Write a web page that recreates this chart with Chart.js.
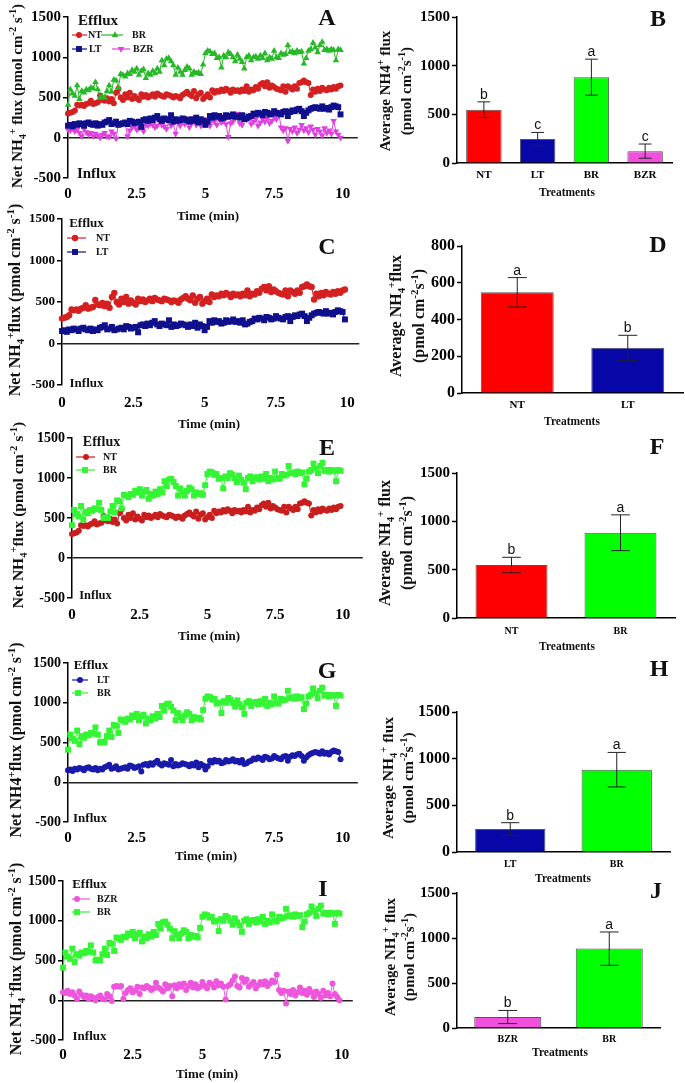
<!DOCTYPE html>
<html><head><meta charset="utf-8">
<script src="https://cdn.jsdelivr.net/npm/chart.js@4.4.1/dist/chart.umd.min.js"></script>
<style>
html,body{margin:0;padding:0;background:#fff;}
body{width:685px;height:1083px;position:relative;overflow:hidden;font-family:"Liberation Serif","Times New Roman",serif;}
canvas{position:absolute;}
.t{position:absolute;white-space:nowrap;font-weight:bold;color:#111;line-height:1;transform:translate(-50%,-50%);}
.r{transform:translate(-50%,-50%) rotate(-90deg);text-align:center;}
sub,sup{font-size:68%;line-height:0;}
</style></head><body>
<script>
// ---------- DATA ----------
const SAMPLE_INTERVAL_MIN = 5 / 60;           // one reading every 5 s
const timeTicks = [0, 2.5, 5, 7.5, 10];
const fluxNT = [300,310,320,340,410,400,410,395,420,430,460,420,
  430,440,525,470,460,490,450,480,430,560,610,500,
  470,540,500,560,480,520,490,470,540,510,530,500,
  520,540,510,550,530,520,510,540,530,520,500,520,
  510,490,530,550,570,540,520,580,490,540,560,480,
  510,540,500,590,560,580,570,600,580,610,590,560,
  600,580,590,570,600,580,640,570,600,590,630,610,
  660,680,640,690,620,650,630,610,600,590,640,570,
  640,620,600,640,610,680,690,710,690,680,530,600,
  570,610,580,620,600,590,620,600,630,610,640,650];
const fluxLT = [150,160,140,170,160,180,170,150,180,190,170,160,
  180,150,170,160,190,200,220,170,180,200,160,170,
  180,190,170,210,200,180,190,200,135,220,230,210,
  240,220,250,270,230,210,240,230,220,280,200,230,
  210,220,240,230,220,200,230,210,250,190,230,210,
  160,200,270,250,280,260,270,240,250,280,260,270,
  290,260,270,250,280,230,240,260,270,300,290,310,
  300,280,320,310,290,300,330,310,300,290,320,330,
  270,320,340,330,350,360,330,270,310,340,360,370,
  380,370,360,390,360,370,350,380,400,390,380,290];
const fluxBR = [410,600,550,520,650,480,580,560,600,590,620,610,
  690,600,500,510,500,580,650,570,720,710,620,790,
  780,760,800,790,840,820,860,780,830,850,740,800,
  780,830,800,860,820,960,900,980,990,950,900,780,
  870,820,780,840,880,860,780,820,800,810,790,910,
  1050,1080,1070,1040,1050,990,1000,870,1020,1000,1060,1040,
  1000,950,1030,980,940,860,1000,1020,960,1000,1010,980,
  1020,990,1050,960,1000,980,1080,1000,990,1050,1030,1040,
  1150,1060,1070,1050,1080,1060,1070,920,990,1080,1100,1180,
  1120,1060,1150,1190,1090,1100,1080,1100,1090,960,1100,1090];
const fluxBZR = [100,90,120,80,100,60,20,110,70,40,60,20,
  50,30,0,40,60,20,10,80,50,-10,170,180,
  170,180,20,90,130,150,100,120,170,80,160,150,
  180,160,130,150,220,160,140,110,200,150,180,50,
  190,150,200,170,210,130,180,220,160,200,150,170,
  230,180,150,220,200,160,240,190,210,170,10,180,
  200,250,300,180,160,280,230,260,170,200,230,150,
  190,230,200,240,180,210,250,230,320,130,90,120,
  -40,110,80,130,60,100,160,90,120,70,140,100,
  40,110,80,30,120,60,90,50,210,80,40,0];

const treatments = ['NT', 'LT', 'BR', 'BZR'];
const meanFlux = [548, 246, 882, 122];
const errFlux = [80, 68, 185, 73];
const sigB = ['b', 'c', 'a', 'c'];
const sigD = ['a', 'b'];
const sigF = ['b', 'a'];
const sigH = ['b', 'a'];
const sigJ = ['b', 'a'];

// ---------- STYLE ----------
const FONT = '"Liberation Serif", "Times New Roman", serif';
const barColors = ['#ff0000', '#0808a8', '#00ff00', '#f050dc'];

function toXY(arr) { return arr.map((v, i) => ({ x: i * SAMPLE_INTERVAL_MIN, y: v })); }

function drawMarker(ctx, style, rot, x, y, r, color) {
  ctx.save(); ctx.fillStyle = color;
  if (Chart.helpers && Chart.helpers.drawPoint) {
    Chart.helpers.drawPoint(ctx, { pointStyle: style, rotation: rot || 0, radius: r, borderWidth: 0 }, x, y);
  } else {
    ctx.beginPath(); ctx.arc(x, y, r, 0, Math.PI * 2); ctx.fill();
  }
  ctx.restore();
}

const legendPlugin = {
  id: 'inlegend',
  afterDatasetsDraw(chart, args, opts) {
    if (!opts || !opts.items) return;
    const ctx = chart.ctx;
    opts.items.forEach(it => {
      const ds = chart.data.datasets[it.ds];
      const y = it.y - opts.oy;
      ctx.save();
      ctx.strokeStyle = ds.borderColor; ctx.lineWidth = 1.2;
      ctx.beginPath(); ctx.moveTo(it.x1 - opts.ox, y); ctx.lineTo(it.x2 - opts.ox, y); ctx.stroke();
      drawMarker(ctx, ds.pointStyle, ds.pointRotation, it.mx - opts.ox, y, ds.pointRadius, ds.backgroundColor);
      ctx.fillStyle = '#111'; ctx.font = 'bold ' + opts.size + 'px ' + FONT;
      ctx.textBaseline = 'middle'; ctx.textAlign = 'left';
      ctx.fillText(ds.label, it.tx - opts.ox, y);
      ctx.restore();
    });
  }
};

const errPlugin = {
  id: 'errbars',
  afterDatasetsDraw(chart, args, opts) {
    const meta = chart.getDatasetMeta(0), ys = chart.scales.y, ctx = chart.ctx;
    meta.data.forEach((bar, k) => {
      const m = opts.means[k], e = opts.errs[k];
      const yt = ys.getPixelForValue(m + e), yb = ys.getPixelForValue(m - e);
      const cw = bar.width * opts.cap / 2;
      ctx.save(); ctx.strokeStyle = '#222'; ctx.lineWidth = 1;
      ctx.beginPath();
      ctx.moveTo(bar.x, yt); ctx.lineTo(bar.x, yb);
      ctx.moveTo(bar.x - cw, yt); ctx.lineTo(bar.x + cw, yt);
      ctx.moveTo(bar.x - cw, yb); ctx.lineTo(bar.x + cw, yb);
      ctx.stroke();
      ctx.fillStyle = '#111'; ctx.font = opts.sigSize + 'px "Liberation Sans", Arial, sans-serif';
      ctx.textAlign = 'center'; ctx.textBaseline = 'alphabetic';
      ctx.fillText(opts.sig[k], bar.x, yt - 3);
      ctx.restore();
    });
  }
};

function makeCanvas(L, T, R, B, yW, padT, padR, xH) {
  const ox = L - yW, oy = T - padT;
  const w = Math.round(R + padR - ox), h = Math.round(B + xH - oy);
  const cv = document.createElement('canvas');
  cv.width = w; cv.height = h;
  cv.style.left = ox + 'px'; cv.style.top = oy + 'px';
  cv.style.width = w + 'px'; cv.style.height = h + 'px';
  document.body.appendChild(cv);
  return { cv, ox, oy };
}

function linePanel(p) {
  const yW = 60, padT = 12, padR = 4, xH = 30;
  const { cv, ox, oy } = makeCanvas(p.L, p.T, p.R, p.B, yW, padT, padR, xH);
  const xmax = 10 * (p.R - p.L) / (p.x10 - p.L);
  new Chart(cv, {
    type: 'line',
    data: { datasets: p.series.map(s => ({
      label: s.label, data: toXY(s.data), borderColor: s.color, backgroundColor: s.color,
      borderWidth: 1, pointStyle: s.style, pointRotation: s.rot || 0, pointRadius: s.r,
      pointHoverRadius: s.r, pointBorderWidth: 0, tension: 0, clip: false })) },
    options: {
      responsive: false, animation: false, devicePixelRatio: 1, events: [],
      layout: { padding: { top: padT, right: padR, left: 0, bottom: 0 } },
      plugins: { legend: { display: false }, tooltip: { enabled: false },
        inlegend: { items: p.legend, ox, oy, size: p.legSize } },
      scales: {
        x: { type: 'linear', min: 0, max: xmax,
          afterBuildTicks: s => { s.ticks = timeTicks.map(v => ({ value: v })); },
          afterFit: s => { s.height = xH; },
          grid: { display: false, drawTicks: false }, border: { display: false },
          ticks: { padding: p.xPad, color: '#000', maxRotation: 0, autoSkip: false,
            font: { family: FONT, size: p.xTick, weight: 'bold' }, callback: v => String(v) } },
        y: { min: -500, max: 1500, afterFit: s => { s.width = yW; },
          ticks: { stepSize: 500, padding: 2, color: '#000',
            font: { family: FONT, size: p.yTick, weight: 'bold' }, callback: v => String(v) },
          grid: { color: c => (c.tick && c.tick.value === 0) ? '#222' : 'rgba(0,0,0,0)',
            lineWidth: 1.5, tickColor: '#000', tickLength: 5, tickWidth: 1.5 },
          border: { display: true, color: '#000', width: 1.5 } }
      }
    },
    plugins: [legendPlugin]
  });
}

function barPanel(p) {
  const yW = 60, padT = 12, padR = 2, xH = 30;
  const { cv, ox, oy } = makeCanvas(p.L, p.T, p.R, p.B, yW, padT, padR, xH);
  new Chart(cv, {
    type: 'bar',
    data: { labels: p.idx.map(i => treatments[i]),
      datasets: [{ data: p.idx.map(i => meanFlux[i]), backgroundColor: p.idx.map(i => barColors[i]),
        borderColor: '#555', borderWidth: 1, barPercentage: 0.66, categoryPercentage: 1 }] },
    options: {
      responsive: false, animation: false, devicePixelRatio: 1, events: [],
      layout: { padding: { top: padT, right: padR, left: 0, bottom: 0 } },
      plugins: { legend: { display: false }, tooltip: { enabled: false },
        errbars: { means: p.idx.map(i => meanFlux[i]), errs: p.idx.map(i => errFlux[i]),
          sig: p.sig, cap: p.cap, sigSize: p.sigSize } },
      scales: {
        x: { afterFit: s => { s.height = xH; },
          grid: { display: false, drawTicks: false }, border: { display: true, color: '#000', width: 1.5 },
          ticks: { padding: p.xPad, color: '#000', font: { family: FONT, size: p.xTick, weight: 'bold' } } },
        y: { min: 0, max: p.ymax, afterFit: s => { s.width = yW; },
          ticks: { stepSize: p.step, padding: 2, color: '#000',
            font: { family: FONT, size: p.yTick, weight: 'bold' }, callback: v => String(v) },
          grid: { drawOnChartArea: false, tickColor: '#000', tickLength: 5, tickWidth: 1.5 },
          border: { display: true, color: '#000', width: 1.5 } }
      }
    },
    plugins: [errPlugin]
  });
}

function txt(html, x, y, size, extra) {
  const d = document.createElement('div');
  d.className = 't' + (extra && extra.rot ? ' r' : '');
  d.innerHTML = html;
  d.style.left = x + 'px'; d.style.top = y + 'px'; d.style.fontSize = size + 'px';
  if (extra && extra.lh) d.style.lineHeight = extra.lh + 'px';
  if (extra && extra.weight) d.style.fontWeight = extra.weight;
  document.body.appendChild(d);
}

// ---------- LINE PANELS ----------
const S = {
  NT: (c, r) => ({ label: 'NT', data: fluxNT, color: c, style: 'circle', r: r || 3 }),
  LTs: (c) => ({ label: 'LT', data: fluxLT, color: c, style: 'rect', r: 4.2 }),
  LTc: (c) => ({ label: 'LT', data: fluxLT, color: c, style: 'circle', r: 3 }),
  BRt: (c) => ({ label: 'BR', data: fluxBR, color: c, style: 'triangle', r: 3.8 }),
  BRs: (c) => ({ label: 'BR', data: fluxBR, color: c, style: 'rect', r: 4.2 }),
  BZRt: (c) => ({ label: 'BZR', data: fluxBZR, color: c, style: 'triangle', rot: 180, r: 3.8 }),
  BZRc: (c) => ({ label: 'BZR', data: fluxBZR, color: c, style: 'circle', r: 3 })
};

linePanel({ L: 68, T: 17, B: 178, R: 358, x10: 343, xTick: 15, yTick: 15, xPad: 7, legSize: 10,
  series: [S.BRt('#26b826'), S.NT('#d42020'), S.LTs('#10108c'), S.BZRt('#e040e0')],
  legend: [
    { ds: 1, x1: 72, x2: 87, mx: 79, y: 35, tx: 88 },
    { ds: 0, x1: 101, x2: 123, mx: 115, y: 35, tx: 132 },
    { ds: 2, x1: 72, x2: 87, mx: 79, y: 49, tx: 89 },
    { ds: 3, x1: 112, x2: 130, mx: 121, y: 49, tx: 133 }
  ] });
linePanel({ L: 62, T: 219, B: 385, R: 360, x10: 348, xTick: 15, yTick: 13, xPad: 9, legSize: 10,
  series: [S.NT('#d42020', 3.2), S.LTs('#10108c')],
  legend: [
    { ds: 0, x1: 67, x2: 86, mx: 75, y: 238, tx: 96 },
    { ds: 1, x1: 67, x2: 86, mx: 75, y: 252, tx: 96 }
  ] });
linePanel({ L: 72, T: 438, B: 598, R: 363, x10: 343, xTick: 15, yTick: 14, xPad: 8, legSize: 10,
  series: [S.BRs('#33f533'), S.NT('#c81e1e')],
  legend: [
    { ds: 1, x1: 76, x2: 95, mx: 86, y: 457, tx: 103 },
    { ds: 0, x1: 76, x2: 95, mx: 85, y: 470, tx: 103 }
  ] });
linePanel({ L: 68, T: 663, B: 822, R: 358, x10: 343, xTick: 15, yTick: 14, xPad: 7, legSize: 10,
  series: [S.BRs('#33f533'), S.LTc('#1a1aaa')],
  legend: [
    { ds: 1, x1: 72, x2: 88, mx: 80, y: 680, tx: 97 },
    { ds: 0, x1: 72, x2: 88, mx: 78, y: 693, tx: 97 }
  ] });
linePanel({ L: 63, T: 881, B: 1040, R: 353, x10: 342, xTick: 15, yTick: 14, xPad: 6, legSize: 10,
  series: [S.BRs('#33f533'), S.BZRc('#ee55dd')],
  legend: [
    { ds: 1, x1: 72, x2: 90, mx: 77, y: 899, tx: 97 },
    { ds: 0, x1: 72, x2: 90, mx: 77, y: 912, tx: 97 }
  ] });

// ---------- BAR PANELS ----------
barPanel({ L: 457, T: 17, B: 163, R: 672, ymax: 1500, step: 500, idx: [0, 1, 2, 3], sig: sigB,
  xTick: 11, yTick: 15, xPad: 6, cap: 0.36, sigSize: 14 });
barPanel({ L: 462, T: 246, B: 393, R: 683, ymax: 800, step: 200, idx: [0, 1], sig: sigD,
  xTick: 11, yTick: 16, xPad: 6, cap: 0.26, sigSize: 14 });
barPanel({ L: 457, T: 473, B: 618, R: 675, ymax: 1500, step: 500, idx: [0, 2], sig: sigF,
  xTick: 10, yTick: 15, xPad: 7, cap: 0.26, sigSize: 14 });
barPanel({ L: 457, T: 712, B: 852, R: 670, ymax: 1500, step: 500, idx: [1, 2], sig: sigH,
  xTick: 10, yTick: 16, xPad: 6, cap: 0.26, sigSize: 14 });
barPanel({ L: 457, T: 893, B: 1028, R: 660, ymax: 1500, step: 500, idx: [3, 2], sig: sigJ,
  xTick: 10, yTick: 15, xPad: 5, cap: 0.28, sigSize: 14 });

// ---------- TEXT ----------
const yT1 = 'Net NH<sub>4</sub><sup>+</sup> flux (pmol cm<sup>-2</sup> s<sup>-1</sup>)';
const yT2 = 'Net NH<sub>4</sub><sup>+</sup>flux (pmol cm<sup>-2</sup> s<sup>-1</sup>)';
const yT3 = 'Net NH4<sup>+</sup>flux (pmol cm<sup>-2</sup> s<sup>-1</sup>)';
txt(yT1, 17, 96, 15, { rot: 1 });
txt(yT2, 15, 300, 16, { rot: 1 });
txt(yT2, 18, 515, 15.5, { rot: 1 });
txt(yT3, 16, 740, 16, { rot: 1 });
txt(yT2, 16, 959, 16, { rot: 1 });

const bT1 = 'Average NH4<sup>+</sup> flux<br>(pmol cm<sup>-2</sup>s<sup>-1</sup>)';
const bT2 = 'Average NH<sub>4</sub><sup>+</sup>flux<br>(pmol cm<sup>-2</sup>s<sup>-1</sup>)';
const bT3 = 'Average NH<sub>4</sub><sup>+</sup> flux<br>(pmol cm<sup>-2</sup>s<sup>-1</sup>)';
txt(bT1, 396, 91, 15, { rot: 1, lh: 21 });
txt(bT2, 407, 316, 16, { rot: 1, lh: 23 });
txt(bT3, 396, 543, 16, { rot: 1, lh: 22 });
txt(bT3, 398, 778, 15.5, { rot: 1, lh: 20 });
txt(bT3, 400, 957, 15, { rot: 1, lh: 19 });

[[208, 215], [209, 423], [209, 635], [206, 855], [207, 1073]].forEach(p => txt('Time (min)', p[0], p[1], 13));
[[567, 193], [572, 422], [567, 647], [563, 879], [560, 1053]].forEach(p => txt('Treatments', p[0], p[1], 11.5));

[['Efflux', 98, 20, 15], ['Influx', 96.5, 173, 15],
 ['Efflux', 86.5, 222, 13], ['Influx', 86.5, 382, 13],
 ['Efflux', 101.5, 442, 14], ['Influx', 95.5, 595, 12.5],
 ['Efflux', 91, 664, 13], ['Influx', 90, 817, 13],
 ['Efflux', 89.5, 883, 13], ['Influx', 89.5, 1035, 13]].forEach(a => txt(a[0], a[1], a[2], a[3]));

[['A', 327, 17], ['B', 658, 18], ['C', 327, 246], ['D', 658, 244], ['E', 327, 447],
 ['F', 657, 446], ['G', 327, 670], ['H', 659, 668], ['I', 323, 888], ['J', 656, 890]]
  .forEach(a => txt(a[0], a[1], a[2], 24));
</script>
</body></html>
